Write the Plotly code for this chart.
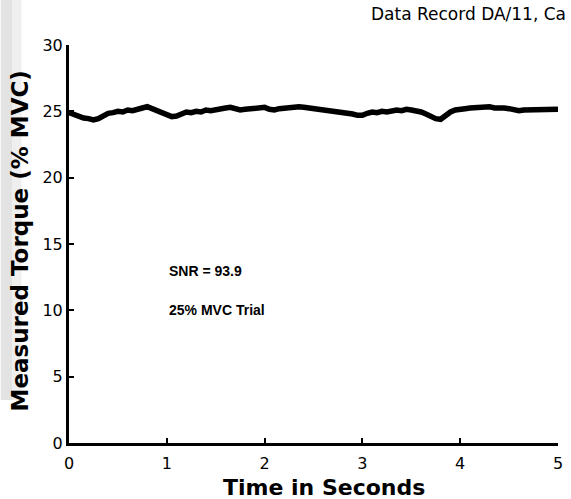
import plotly.graph_objects as go

# Data
time_s = [0.00, 0.05, 0.10, 0.15, 0.20, 0.25, 0.30, 0.35, 0.40, 0.45,
          0.50, 0.55, 0.60, 0.65, 0.70, 0.75, 0.80, 0.85, 0.90, 0.95,
          1.00, 1.05, 1.10, 1.15, 1.20, 1.25, 1.30, 1.35, 1.40, 1.45,
          1.50, 1.55, 1.60, 1.65, 1.70, 1.75, 1.80, 1.85, 1.90, 1.95,
          2.00, 2.05, 2.10, 2.15, 2.20, 2.25, 2.30, 2.35, 2.40, 2.45,
          2.50, 2.55, 2.60, 2.65, 2.70, 2.75, 2.80, 2.85, 2.90, 2.95,
          3.00, 3.05, 3.10, 3.15, 3.20, 3.25, 3.30, 3.35, 3.40, 3.45,
          3.50, 3.55, 3.60, 3.65, 3.70, 3.75, 3.80, 3.85, 3.90, 3.95,
          4.00, 4.05, 4.10, 4.15, 4.20, 4.25, 4.30, 4.35, 4.40, 4.45,
          4.50, 4.55, 4.60, 4.65, 4.70, 4.75, 4.80, 4.85, 4.90, 4.95,
          5.00]
torque_pct = [24.90, 24.75, 24.60, 24.50, 24.45, 24.35, 24.45, 24.65, 24.85, 24.90,
              25.00, 24.95, 25.10, 25.05, 25.20, 25.25, 25.35, 25.20, 25.00, 24.80,
              24.70, 24.60, 24.65, 24.85, 24.95, 24.90, 25.00, 24.95, 25.10, 25.05,
              25.15, 25.20, 25.25, 25.30, 25.15, 25.10, 25.15, 25.20, 25.20, 25.35,
              25.30, 25.15, 25.10, 25.20, 25.25, 25.30, 25.40, 25.35, 25.30, 25.25,
              25.30, 25.20, 25.15, 25.10, 25.05, 25.00, 24.95, 24.85, 24.80, 24.70,
              24.70, 24.85, 24.95, 24.90, 25.00, 24.95, 25.05, 25.10, 25.05, 25.15,
              25.10, 25.05, 24.95, 24.80, 24.60, 24.45, 24.40, 24.70, 24.95, 25.10,
              25.10, 25.20, 25.25, 25.30, 25.35, 25.30, 25.35, 25.25, 25.30, 25.25,
              25.20, 25.10, 25.05, 25.10, 25.10, 25.15, 25.10, 25.15, 25.20, 25.15,
              25.15]

x_ticks = [0, 1, 2, 3, 4, 5]
y_ticks = [0, 5, 10, 15, 20, 25, 30]

title_text = "Data Record DA/11, Ca"
x_title = "Time in Seconds"
y_title = "Measured Torque (% MVC)"
notes = ["SNR = 93.9", "25% MVC Trial"]

W, H = 571, 499
L, R, T, B = 69, 8, 45, 56
pw, ph = W - L - R, H - T - B

def px(x):
    return (x - L) / pw

def py(y):
    return (H - B - y) / ph

fig = go.Figure()
fig.add_trace(go.Scatter(x=time_s, y=torque_pct, mode="lines",
                         line=dict(color="black", width=5.5), showlegend=False))

axis_common = dict(showline=True, linecolor="black", linewidth=3,
                   ticks="inside", ticklen=5, tickwidth=2, tickcolor="black",
                   showgrid=False, zeroline=False,
                   tickfont=dict(family="DejaVu Sans", size=16, color="black"))

fig.update_xaxes(range=[0, 5], tickvals=x_ticks, ticklabelstandoff=4, **axis_common)
fig.update_yaxes(range=[0, 30], tickvals=y_ticks, **axis_common)

annos = [
    dict(text=x_title, x=px(327), y=py(487), xref="paper", yref="paper",
         xanchor="center", yanchor="middle", showarrow=False,
         font=dict(family="DejaVu Sans", size=22, color="black", weight="bold")),
    dict(text=y_title, x=px(20), y=py(241), xref="paper", yref="paper",
         xanchor="center", yanchor="middle", showarrow=False, textangle=-90,
         font=dict(family="DejaVu Sans", size=23, color="black", weight="bold")),
    dict(text=title_text, x=px(372), y=py(14), xref="paper", yref="paper",
         xanchor="left", yanchor="middle", showarrow=False,
         font=dict(family="DejaVu Sans", size=17, color="black")),
    dict(text=notes[0], x=px(168), y=py(271), xref="paper", yref="paper",
         xanchor="left", yanchor="middle", showarrow=False,
         font=dict(family="Liberation Sans", size=14, color="black", weight="bold")),
    dict(text=notes[1], x=px(168), y=py(310), xref="paper", yref="paper",
         xanchor="left", yanchor="middle", showarrow=False,
         font=dict(family="Liberation Sans", size=14, color="black", weight="bold")),
]

shapes = [
    dict(type="rect", xref="paper", yref="paper", x0=px(0), x1=px(12),
         y0=py(400), y1=py(0), fillcolor="#e3e3e3", line=dict(width=0), layer="below"),
    dict(type="rect", xref="paper", yref="paper", x0=px(12), x1=px(21),
         y0=py(400), y1=py(0), fillcolor="#efefef", line=dict(width=0), layer="below"),
]

fig.update_layout(width=W, height=H, margin=dict(l=L, r=R, t=T, b=B),
                  paper_bgcolor="white", plot_bgcolor="rgba(0,0,0,0)",
                  annotations=annos, shapes=shapes, showlegend=False)

fig.write_html("out.html")
